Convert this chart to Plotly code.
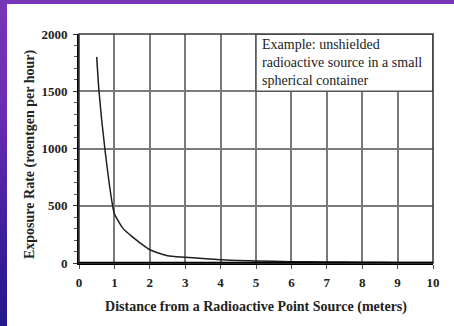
import plotly.graph_objects as go

# Data
distance_m = [0.5, 0.565, 0.73, 0.95, 1.0, 1.25, 1.5, 1.75, 2.0, 2.5, 3.0, 4.0, 5.0, 6.0, 7.0, 8.0, 9.0, 10.0]
exposure_rph = [1800, 1500, 1000, 500, 430, 300, 230, 170, 116, 64, 50, 28, 18, 12, 9, 7, 5, 4]

x_ticks = list(range(0, 11))
y_ticks = [0, 500, 1000, 1500, 2000]

note_lines = ["Example: unshielded", "radioactive source in a small", "spherical container"]
x_title = "Distance from a Radioactive Point Source (meters)"
y_title = "Exposure Rate (roentgen per hour)"

# figure sits inside a purple slide edge (7px left, 4px top)
OFF_X, OFF_Y = 7, 4
W, H = 454 - OFF_X, 326 - OFF_Y
L, R, T, B = 72, 21, 30, 63
pw, ph = W - L - R, H - T - B

serif = "Liberation Serif, Times New Roman, Times, serif"

fig = go.Figure()
fig.add_trace(go.Scatter(
    x=distance_m, y=exposure_rph, mode="lines",
    line=dict(color="#1e1e1e", width=1.5, shape="spline", smoothing=0.6),
    hoverinfo="skip", showlegend=False,
))

shapes = [
    # annotation box (white, hides grid)
    dict(type="rect", xref="x", yref="y", x0=5, x1=10, y0=1500, y1=2000,
         fillcolor="white", line=dict(color="#555555", width=1.5), layer="above"),
    # frame
    dict(type="rect", xref="paper", yref="paper", x0=0, x1=1, y0=0, y1=1,
         fillcolor="rgba(0,0,0,0)", line=dict(color="#3a3a3a", width=1.6), layer="above"),
    # bold zero line
    dict(type="line", xref="paper", yref="y", x0=0, x1=1, y0=0, y1=0,
         line=dict(color="black", width=2.5), layer="above"),
]

fig.update_layout(
    width=W, height=H,
    margin=dict(l=L, r=R, t=T, b=B),
    paper_bgcolor="white", plot_bgcolor="white",
    shapes=shapes,
    annotations=[
        dict(xref="x", yref="y", x=5.12, y=1995, xanchor="left", yanchor="top",
             text="<br>".join(note_lines), align="left", showarrow=False,
             font=dict(family=serif, size=14, color="#222222")),
        dict(xref="paper", yref="paper", x=(29.5 - OFF_X - L) / pw, y=(263 - 154.5) / ph,
             xanchor="center", yanchor="middle", textangle=-90, showarrow=False,
             text="<b>%s</b>" % y_title,
             font=dict(family=serif, size=14, color="#222222")),
    ],
)

fig.update_xaxes(
    range=[0, 10], tickvals=x_ticks,
    showgrid=True, gridcolor="#7a7a7a", gridwidth=1.5,
    ticks="outside", ticklen=4, tickcolor="#555555", tickwidth=1.2,
    ticklabelstandoff=2,
    showline=True, linecolor="black", linewidth=2,
    zeroline=False,
    tickfont=dict(family=serif, size=13, color="#222222", weight="bold"),
    title=dict(text=x_title,
               font=dict(family=serif, size=14, color="#222222", weight="bold"), standoff=13),
)
fig.update_yaxes(
    range=[0, 2000], tickvals=y_ticks,
    showgrid=True, gridcolor="#7a7a7a", gridwidth=1.5,
    ticks="outside", ticklen=4, tickcolor="#333333", tickwidth=1.2,
    ticklabelstandoff=3,
    minor=dict(dtick=100, ticks="outside", ticklen=3, tickcolor="#555555", showgrid=False),
    showline=True, linecolor="black", linewidth=2,
    zeroline=False,
    tickfont=dict(family=serif, size=13, color="#222222", weight="bold"),
)

post = (
    "document.body.style.margin='0';"
    "document.body.style.overflow='hidden';"
    "document.body.style.padding='%dpx 0 0 %dpx';"
    "document.body.style.boxSizing='border-box';"
    "document.body.style.height='326px';"
    "document.body.style.background='linear-gradient(180deg,#7836b8 0%%,#6a2cb0 35%%,#3a1e98 75%%,#24188a 100%%)';"
) % (OFF_Y, OFF_X)

fig.write_html("out.html", config={"displayModeBar": False}, post_script=post)
